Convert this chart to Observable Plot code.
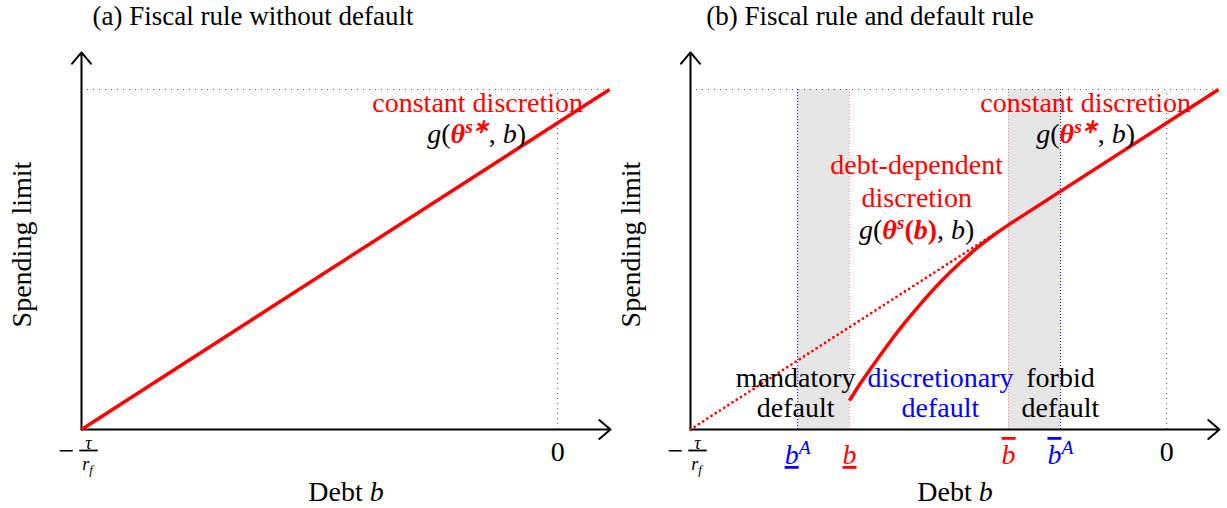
<!DOCTYPE html>
<html><head><meta charset="utf-8">
<script src="https://cdn.jsdelivr.net/npm/d3@7"></script>
<script src="https://cdn.jsdelivr.net/npm/@observablehq/plot@0.6"></script>
<style>
body{margin:0;background:#fff;}
#wrap{position:relative;width:1227px;height:508px;overflow:hidden;font-family:"Liberation Serif",serif;}
.title{position:absolute;top:0;width:520px;text-align:center;font-size:27px;line-height:32px;color:#000;white-space:nowrap;font-family:"Liberation Serif",serif;}
.panel{position:absolute;top:30px;}
.panel svg{overflow:visible;}
.panel svg text, .panel svg tspan{font-family:"Liberation Serif",serif !important;}
.panel svg text.note{letter-spacing:0.5px;}
</style></head><body><div id="wrap"></div>
<script>
// ---------------- data (normalized units: debt 0 = -tau/r_f, 1 = zero debt; spending cap = 1) ----------------
const titles = ["(a) Fiscal rule without default", "(b) Fiscal rule and default rule"];
const xAxisLabel = "Debt b";
const yAxisLabel = "Spending limit";
const debtMin = 0;          // -tau / r_f
const debtZero = 1.0;       // debt = 0
const xAxisEnd = 1.111;
const yAxisEnd = 1.109;
const spendingCap = 1.0;
const constantDiscretion = [{b: 0, g: 0}, {b: 1.109, g: 1.0}];
const thresholds = [
  {name: "bA_low", b: 0.225},
  {name: "b_low", b: 0.334},
  {name: "b_high", b: 0.668},
  {name: "bA_high", b: 0.777}
];
const greyBands = [{b1: 0.225, b2: 0.334}, {b1: 0.668, b2: 0.777}];
const curveDebt  = [0.334, 0.357, 0.382, 0.408, 0.441, 0.483, 0.525, 0.567, 0.609, 0.640, 0.668];
const curveSpend = [0.085, 0.136, 0.186, 0.237, 0.298, 0.369, 0.434, 0.491, 0.542, 0.575, 0.602];
const highDebtSegment = [{b: 0.668, g: 0.602}, {b: 1.109, g: 1.0}];
const lowDebtDotted = [{b: 0, g: 0}, {b: 0.668, g: 0.602}];
const tickRowY = -0.075;
const zeroTickY = -0.065;
const fracY = -0.068;
const xTitleY = -0.185;
const yTitle = {b: -0.124, g: 0.544};

const redNotesA = [{text: "constant discretion", b: 0.832, g: 0.959}];
const formulaNotesA = [{text: "G_const", b: 0.830, g: 0.868}];
const redNotesB = [
  {text: "constant discretion", b: 0.830, g: 0.959},
  {text: "debt-dependent", b: 0.475, g: 0.779},
  {text: "discretion", b: 0.475, g: 0.682}
];
const formulaNotesB = [{text: "G_const", b: 0.830, g: 0.868}, {text: "G_dep", b: 0.475, g: 0.588}];
const blackNotesB = [
  {text: "mandatory", b: 0.221, g: 0.150}, {text: "default", b: 0.221, g: 0.062},
  {text: "forbid", b: 0.777, g: 0.150}, {text: "default", b: 0.777, g: 0.062}
];
const blueNotesB = [{text: "discretionary", b: 0.525, g: 0.150}, {text: "default", b: 0.525, g: 0.062}];

// ---------------- styling ----------------
const RED = "#ff0000", BLUE = "#0000ff";
const FONT = "Liberation Serif";
const richMap = {
  "G_const": [{t: "g", i: 1}, {t: "("}, {t: "θ", i: 1, b: 1, c: RED}, {t: "s∗", i: 1, b: 1, c: RED, sup: 1}, {t: ", "}, {t: "b", i: 1}, {t: ")"}],
  "G_dep": [{t: "g", i: 1}, {t: "("}, {t: "θ", i: 1, b: 1, c: RED}, {t: "s", i: 1, b: 1, c: RED, sup: 1}, {t: "(", b: 1, c: RED}, {t: "b", i: 1, b: 1, c: RED}, {t: ")", b: 1, c: RED}, {t: ", "}, {t: "b", i: 1}, {t: ")"}],
  "bA_low": [{t: "b", i: 1, ul: 1, c: BLUE}, {t: "A", i: 1, sup: 1, c: BLUE}],
  "b_low": [{t: "b", i: 1, ul: 1, c: RED}],
  "b_high": [{t: "b", i: 1, ol: 1, c: RED}],
  "bA_high": [{t: "b", i: 1, ol: 1, c: BLUE}, {t: "A", i: 1, sup: 1, c: BLUE}],
  "Debt b": [{t: "Debt "}, {t: "b", i: 1}],
  // -tau / r_f as one stacked label (fraction bar = underline of the numerator)
  "FRAC": [
    {t: "−", fs: 28, shift: -2},
    {t: "\u00a0\u200aτ\u00a0\u200a", fs: 18, i: 1, ul: 1, dx: 5, shift: -13},
    {t: "r", fs: 18, i: 1, dx: -15.5, shift: 8},
    {t: "f", fs: 13, i: 1, shift: 12}
  ]
};
function richify(svg) {
  svg.querySelectorAll("text").forEach(t => {
    const key = t.textContent;
    const segs = richMap[key];
    if (!segs) return;
    while (t.firstChild) t.removeChild(t.firstChild);
    let shift = 0;
    for (const s of segs) {
      const ts = document.createElementNS("http://www.w3.org/2000/svg", "tspan");
      ts.textContent = s.t;
      const target = s.shift !== undefined ? s.shift : s.sup ? -10 : s.sub ? 5 : 0;
      if (target !== shift) { ts.setAttribute("dy", target - shift); shift = target; }
      if (s.dx) ts.setAttribute("dx", s.dx);
      if (s.i) ts.setAttribute("font-style", "italic");
      if (s.b) ts.setAttribute("font-weight", "bold");
      if (s.c) ts.setAttribute("fill", s.c);
      if (s.fs) ts.setAttribute("font-size", s.fs);
      else if (s.sup || s.sub) ts.setAttribute("font-size", "70%");
      if (s.ul) ts.setAttribute("text-decoration", "underline");
      if (s.ol) ts.setAttribute("text-decoration", "overline");
      t.appendChild(ts);
    }
  });
}

function commonMarks() {
  const txt = {x: "b", y: "g", fontFamily: FONT, fontSize: 28};
  return [
    Plot.ruleY([spendingCap], {x1: () => debtMin, x2: () => constantDiscretion[1].b, stroke: "#555", strokeWidth: 1, strokeDasharray: "1,5"}),
    Plot.ruleX([debtZero], {y1: () => 0, y2: () => spendingCap, stroke: "#555", strokeWidth: 1, strokeDasharray: "1,4"}),
    Plot.arrow([{x1: debtMin, y1: 0, x2: xAxisEnd, y2: 0}, {x1: debtMin, y1: 0, x2: debtMin, y2: yAxisEnd}],
      {x1: "x1", y1: "y1", x2: "x2", y2: "y2", stroke: "black", strokeWidth: 2, headLength: 11, headAngle: 80}),
    Plot.text([{b: (debtMin + xAxisEnd) / 2, g: xTitleY, text: xAxisLabel}], {...txt, text: "text", fill: "black"}),
    Plot.text([{...yTitle, text: yAxisLabel}], {...txt, text: "text", rotate: -90, fill: "black", className: "note"}),
    Plot.text([{b: debtZero, g: zeroTickY, text: "0"}], {...txt, text: "text", fill: "black"}),
    Plot.text([{b: debtMin, g: fracY, text: "FRAC"}], {...txt, text: "text", textAnchor: "start", dx: -23, fill: "black"})
  ];
}

function makePlot(marks, width, xRange) {
  return Plot.plot({
    width, height: 478,
    x: {domain: [debtMin, xAxisEnd], range: xRange, axis: null},
    y: {domain: [0, spendingCap], range: [399, 59], axis: null},
    style: {background: "transparent", overflow: "visible", fontFamily: FONT},
    marks
  });
}

const txt = {x: "b", y: "g", text: "text", fontFamily: FONT, fontSize: 28};
const note = {...txt, className: "note"};
const red = {x: "b", y: "g", stroke: RED, strokeWidth: 3.5, strokeLinecap: "butt"};

const plotA = makePlot([
  ...commonMarks(),
  Plot.line(constantDiscretion, red),
  Plot.text(redNotesA, {...note, fill: RED}),
  Plot.text(formulaNotesA, {...txt, fill: "black"})
], 613, [81, 610]);

const curve = curveDebt.map((b, i) => ({b, g: curveSpend[i]}));
const edgeColor = {bA_low: BLUE, b_low: "#ff8080", b_high: "#ff8080", bA_high: BLUE};
const plotB = makePlot([
  Plot.rect(greyBands, {x1: "b1", x2: "b2", y1: () => 0, y2: () => spendingCap, fill: "#e5e5e5"}),
  ...thresholds.map(d => Plot.ruleX([d], {x: "b", y1: () => 0, y2: () => spendingCap, stroke: edgeColor[d.name], strokeWidth: 1, strokeDasharray: "1,2"})),
  ...commonMarks(),
  Plot.line(lowDebtDotted, {x: "b", y: "g", stroke: RED, strokeWidth: 2.8, strokeDasharray: "0,5", strokeLinecap: "round"}),
  Plot.line(curve, {...red, curve: "monotone-x"}),
  Plot.line(highDebtSegment, red),
  Plot.text(thresholds, {x: "b", y: () => tickRowY, text: "name", fontFamily: FONT, fontSize: 28}),
  Plot.text(redNotesB, {...note, fill: RED}),
  Plot.text(formulaNotesB, {...txt, fill: "black"}),
  Plot.text(blackNotesB, {...note, fill: "black"}),
  Plot.text(blueNotesB, {...note, fill: BLUE})
], 614, [77, 606]);

const wrap = document.getElementById("wrap");
const centers = [253, 870];
titles.forEach((t, i) => {
  const d = document.createElement("div");
  d.className = "title"; d.textContent = t;
  d.style.left = (centers[i] - 260) + "px";
  wrap.appendChild(d);
});
[[plotA, 0], [plotB, 613]].forEach(([p, left]) => {
  const d = document.createElement("div");
  d.className = "panel"; d.style.left = left + "px";
  d.appendChild(p);
  wrap.appendChild(d);
  richify(p);
});
</script></body></html>
